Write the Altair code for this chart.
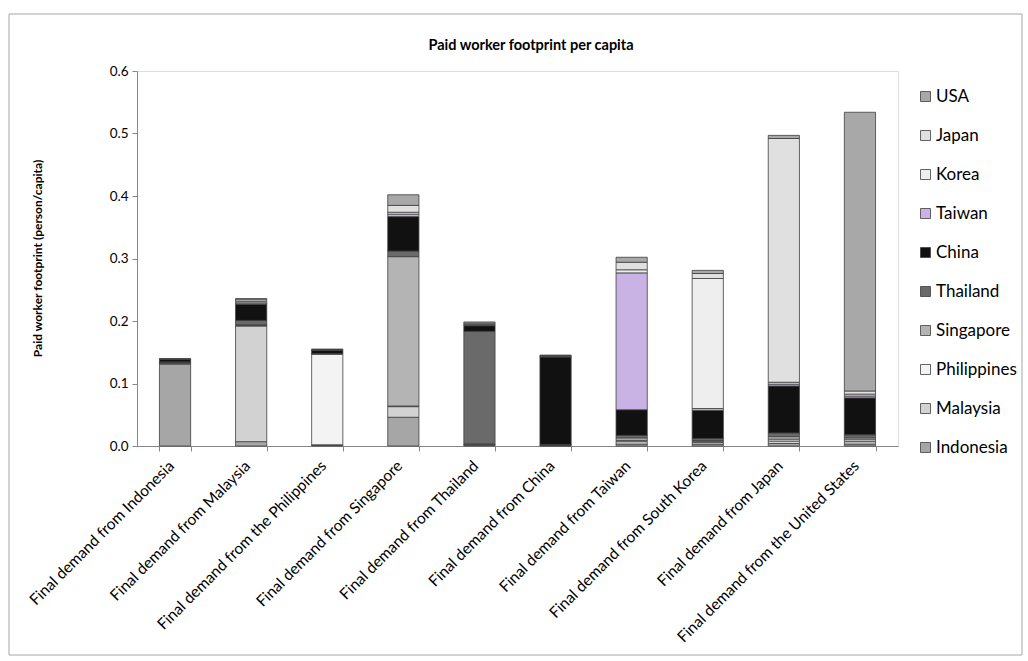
import altair as alt
import pandas as pd

# Final-demand regions (x axis)
regions = [
    "Final demand from Indonesia",
    "Final demand from Malaysia",
    "Final demand from the Philippines",
    "Final demand from Singapore",
    "Final demand from Thailand",
    "Final demand from China",
    "Final demand from Taiwan",
    "Final demand from South Korea",
    "Final demand from Japan",
    "Final demand from the United States",
]

# Producing countries, stacked bottom to top
countries = ["Indonesia", "Malaysia", "Philippines", "Singapore", "Thailand",
             "China", "Taiwan", "Korea", "Japan", "USA"]

# Paid worker footprint (person/capita) contributed by each producing country
indonesia   = [0.131, 0.007, 0.001, 0.046, 0.001, 0.0005, 0.003, 0.003, 0.004, 0.003]
malaysia    = [0.001, 0.185, 0.001, 0.017, 0.001, 0.0005, 0.004, 0.003, 0.004, 0.004]
philippines = [0.0005, 0.001, 0.145, 0.001, 0.0005, 0.0005, 0.002, 0.001, 0.003, 0.003]
singapore   = [0.001, 0.001, 0.0005, 0.239, 0.001, 0.0005, 0.004, 0.002, 0.004, 0.003]
thailand    = [0.001, 0.007, 0.0005, 0.009, 0.180, 0.0005, 0.004, 0.003, 0.006, 0.005]
china       = [0.004, 0.026, 0.005, 0.055, 0.009, 0.140, 0.041, 0.045, 0.075, 0.059]
taiwan      = [0.0002, 0.002, 0.0005, 0.004, 0.001, 0.0005, 0.219, 0.003, 0.003, 0.003]
korea       = [0.0002, 0.002, 0.0005, 0.003, 0.001, 0.001, 0.005, 0.208, 0.003, 0.003]
japan       = [0.0003, 0.003, 0.0005, 0.011, 0.002, 0.0007, 0.012, 0.008, 0.390, 0.005]
usa         = [0.0003, 0.002, 0.0005, 0.017, 0.002, 0.0008, 0.008, 0.005, 0.005, 0.446]

series = [indonesia, malaysia, philippines, singapore, thailand,
          china, taiwan, korea, japan, usa]

# Grey-tone fills standing in for the hatch patterns
fills = ["#a6a6a6", "#d2d2d2", "#f3f3f3", "#b4b4b4", "#6a6a6a",
         "#111111", "#c9b2e4", "#eeeeee", "#e0e0e0", "#a8a8a8"]

y_ticks = [0.0, 0.1, 0.2, 0.3, 0.4, 0.5, 0.6]

chart_title = "Paid worker footprint per capita"

rows = []
for k, (name, vals) in enumerate(zip(countries, series)):
    for region, v in zip(regions, vals):
        rows.append({"region": region, "country": name, "value": v, "k": k})
df = pd.DataFrame(rows)

FONT = "Lato"

bars = alt.Chart(df).mark_bar(stroke="#3f3f3f", strokeWidth=0.8).encode(
    x=alt.X("region:N", sort=regions, title=None,
            scale=alt.Scale(paddingInner=0.59, paddingOuter=0.295),
            axis=alt.Axis(labelAngle=-45, labelAlign="right", labelBaseline="middle",
                          labelPadding=12, labelOffset=-4, labelFontSize=15.5,
                          labelFont=FONT, labelColor="#000000", tickBand="extent",
                          tickSize=5, tickColor="#868686", domainColor="#868686",
                          labelLimit=400)),
    y=alt.Y("value:Q", stack="zero",
            scale=alt.Scale(domain=[0, 0.6], nice=False),
            title="Paid worker footprint (person/capita)",
            axis=alt.Axis(values=y_ticks, format=".1f", grid=False, tickSize=5,
                          tickColor="#868686", domainColor="#868686",
                          labelFontSize=13.5, labelFont=FONT, labelColor="#000000",
                          labelPadding=4, titleFont=FONT, titleFontSize=12,
                          titleFontWeight="bold", titleColor="#000000",
                          titleX=-100, titleY=187, titleBaseline="middle")),
    color=alt.Color("country:N", sort=list(reversed(countries)),
                    scale=alt.Scale(domain=list(reversed(countries)),
                                    range=list(reversed(fills))),
                    legend=alt.Legend(title=None, orient="none", legendX=780, legendY=17,
                                      symbolType="square", symbolSize=100,
                                      symbolStrokeColor="#3f3f3f", symbolStrokeWidth=0.8,
                                      labelFont=FONT, labelFontSize=17,
                                      labelColor="#000000", rowPadding=21,
                                      labelOffset=2)),
    order=alt.Order("k:Q", sort="ascending"),
)

one_row = pd.DataFrame({"f": [0]})

# Chart title, centred over the chart area
title = alt.Chart(one_row).mark_text(
    text=chart_title, font=FONT, fontSize=14.5, fontWeight="bold", color="#000000",
    align="center", baseline="middle"
).encode(x=alt.value(394), y=alt.value(-25))

# Outer chart-area frame
frame = alt.Chart(one_row).mark_rect(
    fill="transparent", stroke="#a6a6a6", strokeWidth=1
).encode(x=alt.value(-128), x2=alt.value(885), y=alt.value(-57), y2=alt.value(584))

chart = alt.layer(bars, title, frame).properties(
    width=761, height=375,
    autosize=alt.AutoSizeParams(type="none"),
    padding={"left": 137, "top": 71, "right": 130, "bottom": 215},
).configure_view(stroke="#8eb4e3", strokeWidth=1).configure(background="white")

chart.save("out.html", embed_options={"renderer": "svg", "actions": False})
